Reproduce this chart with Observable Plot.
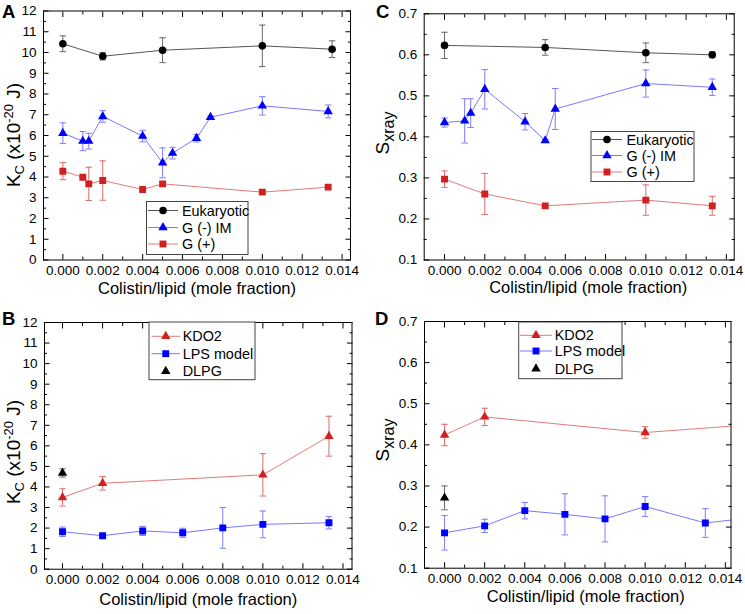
<!DOCTYPE html>
<html>
<head>
<meta charset="utf-8">
<script src="https://cdn.jsdelivr.net/npm/d3@7"></script>
<script src="https://cdn.jsdelivr.net/npm/@observablehq/plot@0.6"></script>
<style>
  html, body { margin: 0; padding: 0; background: #fff; }
  #fig { position: relative; width: 745px; height: 614px; background: #fff; font-family: "Liberation Sans", Arial, Helvetica, sans-serif; }
  #fig svg { position: absolute; overflow: visible; }
</style>
</head>
<body>
<div id="fig"></div>
<script>
// ---------------- DATA ----------------
// shared axis ticks
const xTicks = [0, 0.002, 0.004, 0.006, 0.008, 0.010, 0.012, 0.014];
const xMinorTicks = [0.001, 0.003, 0.005, 0.007, 0.009, 0.011, 0.013];
const kcTicks = [0, 1, 2, 3, 4, 5, 6, 7, 8, 9, 10, 11, 12];
const kcMinorTicks = [0.5, 1.5, 2.5, 3.5, 4.5, 5.5, 6.5, 7.5, 8.5, 9.5, 10.5, 11.5];
const sTicks = [0.1, 0.2, 0.3, 0.4, 0.5, 0.6, 0.7];
const sMinorTicks = [0.15, 0.25, 0.35, 0.45, 0.55, 0.65];
const xTitle = "Colistin/lipid (mole fraction)";

// Panel A: Kc
const xEukA = [0, 0.002, 0.005, 0.010, 0.0135];
const kcEuk = [10.42, 9.82, 10.11, 10.32, 10.16];
const kcEukErr = [0.38, 0.18, 0.60, 1.00, 0.40];
const xGnegA = [0, 0.001, 0.0013, 0.002, 0.004, 0.005, 0.0055, 0.0067, 0.0074, 0.010, 0.0133];
const kcGneg = [6.11, 5.73, 5.73, 6.92, 5.97, 4.68, 5.15, 5.87, 6.88, 7.43, 7.16];
const kcGnegErr = [0.50, 0.46, 0.38, 0.28, 0.28, 0.72, 0.28, 0.18, 0.08, 0.44, 0.31];
const xGposA = [0, 0.001, 0.0013, 0.002, 0.004, 0.005, 0.010, 0.0133];
const kcGpos = [4.28, 3.99, 3.67, 3.83, 3.40, 3.67, 3.27, 3.51];
const kcGposErr = [0.41, 0, 0.80, 0.95, 0, 0, 0, 0];

// Panel C: Sxray
const xEukC = [0, 0.005, 0.010, 0.0133];
const sEuk = [0.623, 0.618, 0.605, 0.600];
const sEukErr = [0.032, 0.019, 0.024, 0.007];
const xGnegC = [0, 0.001, 0.0013, 0.002, 0.004, 0.005, 0.0055, 0.010, 0.0133];
const sGneg = [0.435, 0.439, 0.458, 0.516, 0.437, 0.391, 0.468, 0.530, 0.521];
const sGnegErr = [0.011, 0.054, 0.035, 0.048, 0.020, 0.003, 0.050, 0.033, 0.020];
const xGposC = [0, 0.002, 0.005, 0.010, 0.0133];
const sGpos = [0.297, 0.261, 0.232, 0.246, 0.232];
const sGposErr = [0.020, 0.050, 0.005, 0.037, 0.023];

// Panel B: Kc
const xKdoB = [0, 0.002, 0.010, 0.0133];
const kcKdo = [3.49, 4.18, 4.59, 6.47];
const kcKdoErr = [0.42, 0.33, 1.03, 0.97];
const xLpsB = [0, 0.002, 0.004, 0.006, 0.008, 0.010, 0.0133];
const kcLps = [1.82, 1.63, 1.86, 1.77, 2.01, 2.18, 2.26];
const kcLpsErr = [0.23, 0.08, 0.22, 0.22, 0.99, 0.65, 0.30];
const xDlpgB = [0];
const kcDlpg = [4.68];
const kcDlpgErr = [0.20];

// Panel D: Sxray
const xKdoD = [0, 0.002, 0.010, 0.015];
const sKdo = [0.424, 0.468, 0.430, 0.448];
const sKdoErr = [0.026, 0.021, 0.014, 0];
const xLpsD = [0, 0.002, 0.004, 0.006, 0.008, 0.010, 0.013, 0.015];
const sLps = [0.186, 0.203, 0.240, 0.231, 0.220, 0.250, 0.210, 0.221];
const sLpsErr = [0.042, 0.016, 0.020, 0.050, 0.056, 0.024, 0.035, 0];
const xDlpgD = [0];
const sDlpg = [0.271];
const sDlpgErr = [0.029];

// ---------------- STYLES ----------------
const FONT = '"Liberation Sans", Arial, Helvetica, sans-serif';
const BLACK = {color: "#000", line: "#555", err: "#666"};
const BLUE = {color: "#0000ff", line: "#7878ff", err: "#7c7cff"};
const RED = {color: "#d02020", line: "#e27a7a", err: "#e06a6a"};
const SYM = {
  circle: {plot: "circle", d3: d3.symbolCircle, r: 3.8},
  triangle: {plot: "triangle", d3: d3.symbolTriangle, r: 3.5},
  square: {plot: "square", d3: d3.symbolSquare, r: 3.9}
};
const capSymbol = {
  draw(ctx, size) { const r = Math.sqrt(size / Math.PI); ctx.moveTo(-r, 0); ctx.lineTo(r, 0); }
};

function rows(xs, ys, es) { return xs.map((x, i) => ({x, y: ys[i], e: es[i]})); }

function seriesMarks(s) {
  const d = rows(s.x, s.y, s.e);
  const withErr = d.filter(r => r.e > 0);
  const m = [];
  if (s.line) m.push(Plot.line(d, {x: "x", y: "y", stroke: s.pal.line, strokeWidth: 1, clip: true}));
  m.push(Plot.ruleX(withErr, {x: "x", y1: r => r.y - r.e, y2: r => r.y + r.e, stroke: s.pal.err, strokeWidth: 1, clip: true}));
  m.push(Plot.dot(withErr, {x: "x", y: r => r.y + r.e, symbol: capSymbol, r: 3.2, fill: "none", stroke: s.pal.err, strokeWidth: 1, clip: true}));
  m.push(Plot.dot(withErr, {x: "x", y: r => r.y - r.e, symbol: capSymbol, r: 3.2, fill: "none", stroke: s.pal.err, strokeWidth: 1, clip: true}));
  m.push(Plot.dot(d, {x: "x", y: "y", symbol: SYM[s.sym].plot, r: SYM[s.sym].r, fill: s.pal.color, stroke: "none", clip: true}));
  return m;
}

function makePanel(P) {
  const fig = document.getElementById("fig");
  const marks = [];
  P.series.forEach(s => marks.push(...seriesMarks(s)));
  marks.push(
    Plot.axisX(xMinorTicks, {anchor: "bottom", tickSize: -3, fill: "none", stroke: "#000", label: null}),
    Plot.axisX(xMinorTicks, {anchor: "top", tickSize: -3, fill: "none", stroke: "#000", label: null}),
    Plot.axisX(xTicks, {anchor: "top", tickSize: -5.5, fill: "none", stroke: "#000", label: null}),
    Plot.axisX(xTicks, {anchor: "bottom", tickSize: -5.5, tickPadding: 10.5, tickFormat: d3.format(".3f"), fontSize: 13.5, fill: "#000", stroke: "#000", label: null}),
    Plot.axisY(P.yMinor, {anchor: "left", tickSize: -3, fill: "none", stroke: "#000", label: null}),
    Plot.axisY(P.yMinor, {anchor: "right", tickSize: -3, fill: "none", stroke: "#000", label: null}),
    Plot.axisY(P.yTicks, {anchor: "right", tickSize: -5.5, fill: "none", stroke: "#000", label: null}),
    Plot.axisY(P.yTicks, {anchor: "left", tickSize: -5.5, tickPadding: 12.5, tickFormat: P.yFormat, fontSize: 13.5, fill: "#000", stroke: "#000", label: null}),
    Plot.frame({stroke: "#000", strokeWidth: 1}),
    Plot.text([xTitle], {frameAnchor: "bottom", dy: P.xTitleDy, dx: P.xTitleDx, lineAnchor: "bottom", fontSize: 16.5, text: d => d, fill: "#000"})
  );
  const svg = Plot.plot({
    width: P.width, height: P.height,
    marginTop: P.m[0], marginRight: P.m[1], marginBottom: P.m[2], marginLeft: P.m[3],
    x: {domain: P.xDomain, label: null},
    y: {domain: P.yDomain, label: null},
    style: {fontFamily: FONT, fontSize: "13.5px", color: "#000", background: "transparent", overflow: "visible"},
    marks
  });
  svg.style.left = P.left + "px";
  svg.style.top = P.top + "px";
  const g = d3.select(svg);
  // panel letter
  g.append("text").attr("x", P.letterX).attr("y", 18).attr("text-anchor", "start").attr("font-family", FONT)
    .attr("font-weight", "bold").attr("font-size", 18.5).attr("fill", "#000").text(P.letter);
  // y title
  const yt = g.append("text").attr("transform", `translate(${P.yTitleX},${P.yTitleY}) rotate(-90)`)
    .attr("text-anchor", "middle").attr("font-family", FONT).attr("font-size", 19).attr("fill", "#000");
  P.yTitle.forEach(part => {
    const t = yt.append("tspan").text(part.t);
    if (part.size) t.attr("font-size", part.size);
    if (part.dy) t.attr("dy", part.dy);
  });
  // legend
  const L = P.legend;
  const lg = g.append("g");
  lg.append("rect").attr("x", L.x).attr("y", L.y).attr("width", L.w).attr("height", L.h)
    .attr("fill", "#fff").attr("stroke", "#444").attr("stroke-width", 1);
  P.series.forEach((s, i) => {
    const cy = L.rowY[i];
    if (s.line) lg.append("line").attr("x1", L.lx1).attr("x2", L.lx2).attr("y1", cy).attr("y2", cy)
      .attr("stroke", s.pal.line).attr("stroke-width", 1);
    const sy = SYM[s.sym];
    lg.append("path").attr("d", d3.symbol(sy.d3, Math.PI * sy.r * sy.r)())
      .attr("transform", `translate(${(L.lx1 + L.lx2) / 2},${cy})`).attr("fill", s.pal.color);
    lg.append("text").attr("x", L.tx).attr("y", cy).attr("dy", "0.36em").attr("text-anchor", "start")
      .attr("font-family", FONT).attr("font-size", 14.4).attr("fill", "#000").text(s.name);
  });
  fig.appendChild(svg);
}

const kcTitle = [{t: "K"}, {t: "C", size: 13, dy: 4}, {t: " (x10", size: 19, dy: -4}, {t: "-20", size: 13, dy: -7}, {t: " J)", size: 19, dy: 7}];
const sTitle = [{t: "S"}, {t: "xray", size: 16, dy: 5}];

makePanel({
  letter: "A", letterX: 2, left: 0, top: 0, width: 372, height: 307, m: [10.5, 22, 47.5, 43],
  xDomain: [-0.00097, 0.01442], yDomain: [0, 12], yTicks: kcTicks, yMinor: kcMinorTicks, yFormat: d => d,
  xTitleDy: 33.5, xTitleDx: 0, yTitle: kcTitle, yTitleX: 20, yTitleY: 135,
  series: [
    {name: "Eukaryotic", x: xEukA, y: kcEuk, e: kcEukErr, pal: BLACK, sym: "circle", line: true},
    {name: "G (-) IM", x: xGnegA, y: kcGneg, e: kcGnegErr, pal: BLUE, sym: "triangle", line: true},
    {name: "G (+)", x: xGposA, y: kcGpos, e: kcGposErr, pal: RED, sym: "square", line: true}
  ],
  legend: {x: 146.5, y: 201.5, w: 101.5, h: 53, rowY: [210.5, 227.5, 244], lx1: 148, lx2: 178, tx: 182}
});

makePanel({
  letter: "C", letterX: 4, left: 372, top: 0, width: 373, height: 307, m: [13.3, 11.3, 47.5, 51.7],
  xDomain: [-0.00101, 0.01439], yDomain: [0.1, 0.7], yTicks: sTicks, yMinor: sMinorTicks, yFormat: d3.format(".1f"),
  xTitleDy: 32.5, xTitleDx: 9, yTitle: sTitle, yTitleX: 17, yTitleY: 133,
  series: [
    {name: "Eukaryotic", x: xEukC, y: sEuk, e: sEukErr, pal: BLACK, sym: "circle", line: true},
    {name: "G (-) IM", x: xGnegC, y: sGneg, e: sGnegErr, pal: BLUE, sym: "triangle", line: true},
    {name: "G (+)", x: xGposC, y: sGpos, e: sGposErr, pal: RED, sym: "square", line: true}
  ],
  legend: {x: 219, y: 131.5, w: 103, h: 50, rowY: [139.5, 155.5, 172], lx1: 220, lx2: 250, tx: 254.5}
});

makePanel({
  letter: "B", letterX: 2, left: 0, top: 307, width: 372, height: 307, m: [15, 20.5, 45.3, 44],
  xDomain: [-0.0009, 0.01445], yDomain: [0, 12], yTicks: kcTicks, yMinor: kcMinorTicks, yFormat: d => d,
  xTitleDy: 35.5, xTitleDx: 0, yTitle: kcTitle, yTitleX: 20, yTitleY: 145,
  series: [
    {name: "KDO2", x: xKdoB, y: kcKdo, e: kcKdoErr, pal: RED, sym: "triangle", line: true},
    {name: "LPS model", x: xLpsB, y: kcLps, e: kcLpsErr, pal: BLUE, sym: "square", line: true},
    {name: "DLPG", x: xDlpgB, y: kcDlpg, e: kcDlpgErr, pal: BLACK, sym: "triangle", line: false}
  ],
  legend: {x: 149, y: 15, w: 106, h: 57.7, rowY: [29.3, 46.7, 64.3], lx1: 151.5, lx2: 180, tx: 182.7}
});

makePanel({
  letter: "D", letterX: 3, left: 372, top: 307, width: 373, height: 307, m: [14, 14.5, 46.3, 52],
  xDomain: [-0.001, 0.01428], yDomain: [0.1, 0.7], yTicks: sTicks, yMinor: sMinorTicks, yFormat: d3.format(".1f"),
  xTitleDy: 34, xTitleDx: 8, yTitle: sTitle, yTitleX: 17, yTitleY: 133,
  series: [
    {name: "KDO2", x: xKdoD, y: sKdo, e: sKdoErr, pal: RED, sym: "triangle", line: true},
    {name: "LPS model", x: xLpsD, y: sLps, e: sLpsErr, pal: BLUE, sym: "square", line: true},
    {name: "DLPG", x: xDlpgD, y: sDlpg, e: sDlpgErr, pal: BLACK, sym: "triangle", line: false}
  ],
  legend: {x: 146.7, y: 15, w: 103.3, h: 56.7, rowY: [28.3, 44, 61.7], lx1: 148, lx2: 180, tx: 182.7}
});
</script>
</body>
</html>
